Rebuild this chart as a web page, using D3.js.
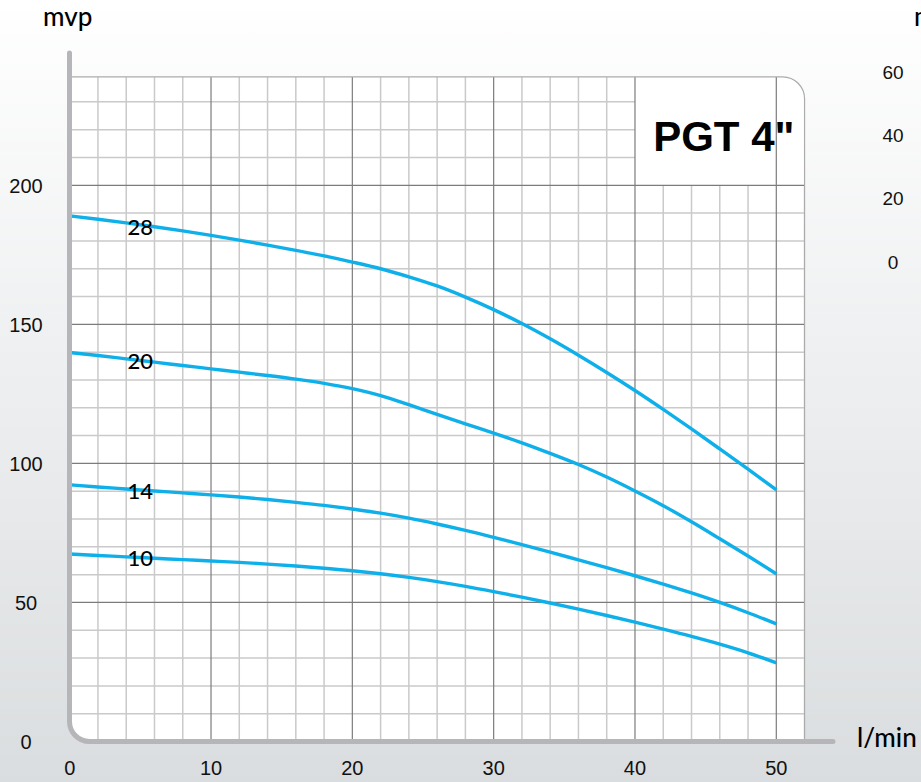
<!DOCTYPE html>
<html>
<head>
<meta charset="utf-8">
<script src="https://cdn.jsdelivr.net/npm/d3@7/dist/d3.min.js"></script>
<style>
  html, body { margin: 0; padding: 0; overflow: hidden; }
  body { width: 921px; height: 782px; }
  svg { display: block; }
</style>
</head>
<body>
<svg id="chart" width="921" height="782"></svg>
<script>
// ---------- data ----------
const flow = [0, 2, 4, 6, 8, 10, 12, 14, 16, 18, 20, 22, 24, 26, 28, 30, 32, 34, 36, 38, 40, 42, 44, 46, 48, 50]; // l/min
const stages = ["28", "20", "14", "10"];
const head28 = [189, 187.8, 186.5, 185.1, 183.6, 182.0, 180.3, 178.5, 176.6, 174.6, 172.4, 170.0, 167.1, 163.8, 159.8, 155.3, 150.3, 144.8, 138.9, 132.7, 126.2, 119.4, 112.4, 105.2, 97.9, 90.5];
const head20 = [139.9, 138.8, 137.6, 136.4, 135.2, 134.0, 132.8, 131.6, 130.3, 128.8, 126.9, 124.4, 121.1, 117.6, 114.2, 110.9, 107.4, 103.6, 99.6, 95.1, 90.1, 84.8, 79.0, 72.9, 66.7, 60.3];
const head14 = [92.3, 91.5, 90.8, 90.1, 89.4, 88.7, 87.9, 87.0, 86.0, 84.9, 83.6, 82.1, 80.3, 78.2, 75.9, 73.4, 70.8, 68.1, 65.3, 62.5, 59.6, 56.6, 53.4, 50.0, 46.3, 42.3];
const head10 = [67.4, 66.9, 66.4, 65.9, 65.4, 64.9, 64.4, 63.8, 63.1, 62.3, 61.4, 60.3, 59.0, 57.5, 55.8, 53.9, 51.9, 49.8, 47.6, 45.3, 42.9, 40.4, 37.8, 35.0, 31.9, 28.3];
const labelFlow = 5;
const labelHeads = [184.8, 136.9, 90.2, 66.0];
const xTicks = [0, 10, 20, 30, 40, 50];
const yTicks = [0, 50, 100, 150, 200];
const rightTicks = [60, 40, 20, 0];
const title = "PGT 4\"";
const yUnit = "mvp";
const xUnit = "l/min";
const rightUnit = "m";

// ---------- layout ----------
const svg = d3.select("#chart");
const x = d3.scaleLinear().domain([0, 50]).range([69.7, 776.3]);
const y = d3.scaleLinear().domain([0, 200]).range([741.5, 185.3]);
const yR = d3.scaleLinear().domain([0, 60]).range([261.7, 71.7]);
const xMax = 52, yTop = 239;

const defs = svg.append("defs");
const grad = defs.append("linearGradient").attr("id", "bg").attr("x1", 0).attr("y1", 0).attr("x2", 0).attr("y2", 1);
grad.append("stop").attr("offset", "0%").attr("stop-color", "#ffffff");
grad.append("stop").attr("offset", "100%").attr("stop-color", "#dadddf");
svg.append("rect").attr("width", 921).attr("height", 782).attr("fill", "url(#bg)");

const L = x(0) - 0.2, R = x(xMax), T = y(yTop), B = y(0);
const rTR = 22, rBL = 20;
const plotPath = `M${L},${T} H${R - rTR} A${rTR},${rTR} 0 0 1 ${R},${T + rTR} V${B} H${L + rBL} A${rBL},${rBL} 0 0 1 ${L},${B - rBL} Z`;

defs.append("clipPath").attr("id", "plotClip").append("path").attr("d", plotPath);

svg.append("path").attr("d", plotPath).attr("fill", "#ffffff");

const g = svg.append("g").attr("clip-path", "url(#plotClip)");

// minor grid
const minorX = d3.range(2, xMax + 0.1, 2).filter(v => v % 10 !== 0 || v > 50);
const minorY = d3.range(10, yTop, 10).filter(v => v % 50 !== 0 || v > 200);
g.selectAll(".mx").data(minorX).join("line")
  .attr("x1", d => x(d)).attr("x2", d => x(d)).attr("y1", T).attr("y2", B)
  .attr("stroke", "#cacaca").attr("stroke-width", 1.5);
g.selectAll(".my").data(minorY).join("line")
  .attr("x1", L).attr("x2", R).attr("y1", d => y(d)).attr("y2", d => y(d))
  .attr("stroke", "#cacaca").attr("stroke-width", 1.5);

// title box
g.append("rect").attr("x", x(40)).attr("y", T).attr("width", R - x(40) + 2).attr("height", y(200) - T)
  .attr("fill", "#ffffff");

// major grid
g.selectAll(".Mx").data([10, 20, 30, 40, 50]).join("line")
  .attr("x1", d => x(d)).attr("x2", d => x(d)).attr("y1", T).attr("y2", B)
  .attr("stroke", "#7c7c7c").attr("stroke-width", 1.2);
g.selectAll(".My").data([50, 100, 150, 200]).join("line")
  .attr("x1", L).attr("x2", R).attr("y1", d => y(d)).attr("y2", d => y(d))
  .attr("stroke", "#7c7c7c").attr("stroke-width", 1.2);

// border
svg.append("path").attr("d", plotPath).attr("fill", "none").attr("stroke", "#ababab").attr("stroke-width", 1.2);

// title
svg.append("text").attr("x", (x(40) + R) / 2 + 4).attr("y", 151)
  .attr("text-anchor", "middle")
  .attr("font-family", "'Liberation Sans', Arial, sans-serif").attr("font-weight", "bold").attr("font-size", 42)
  .attr("fill", "#000").text(title);

// curves
const series = [head28, head20, head14, head10];
const line = d3.line().x((d, i) => x(flow[i])).y(d => y(d)).curve(d3.curveMonotoneX);
svg.selectAll(".curve").data(series).join("path")
  .attr("d", d => line(d)).attr("fill", "none")
  .attr("stroke", "#0fb0ea").attr("stroke-width", 3.4).attr("stroke-linecap", "butt");

// curve labels
svg.selectAll(".lab").data(labelHeads).join("text")
  .attr("x", x(labelFlow)).attr("y", d => y(d))
  .attr("dy", "0.36em")
  .attr("text-anchor", "middle")
  .attr("font-family", "Lato, 'Noto Sans', sans-serif").attr("font-size", 22).attr("font-weight", 500)
  .attr("fill", "#000").text((d, i) => stages[i]);

// axes lines
const axisPath = `M${L},53 V${B - rBL} A${rBL},${rBL} 0 0 0 ${L + rBL},${B} H833`;
svg.append("path").attr("d", axisPath).attr("fill", "none")
  .attr("stroke", "#b5b5ba").attr("stroke-width", 5).attr("stroke-linecap", "round");

// tick labels
const tickFont = "'Liberation Sans', Arial, sans-serif";
svg.selectAll(".xt").data(xTicks).join("text")
  .attr("x", d => x(d)).attr("y", 775).attr("text-anchor", "middle")
  .attr("font-family", tickFont).attr("font-size", 20).attr("fill", "#111").text(d => d);
svg.selectAll(".yt").data(yTicks).join("text")
  .attr("x", 26).attr("y", d => y(d)).attr("dy", "0.36em").attr("text-anchor", "middle")
  .attr("font-family", tickFont).attr("font-size", 20).attr("fill", "#111").text(d => d);
svg.selectAll(".rt").data(rightTicks).join("text")
  .attr("x", 893).attr("y", d => yR(d)).attr("dy", "0.36em").attr("text-anchor", "middle")
  .attr("font-family", tickFont).attr("font-size", 19).attr("fill", "#111").text(d => d);

// units
const unitFont = "Lato, 'Noto Sans', sans-serif";
svg.append("text").attr("x", 43).attr("y", 26).attr("font-family", unitFont).attr("font-size", 26).attr("font-weight", 500).attr("fill", "#000").text(yUnit);
svg.append("text").attr("x", 857).attr("y", 747).attr("font-family", unitFont).attr("font-size", 26).attr("font-weight", 500).attr("fill", "#000").text(xUnit);
svg.append("text").attr("x", 914).attr("y", 26).attr("font-family", unitFont).attr("font-size", 26).attr("font-weight", 500).attr("fill", "#000").text(rightUnit);
</script>
</body>
</html>
